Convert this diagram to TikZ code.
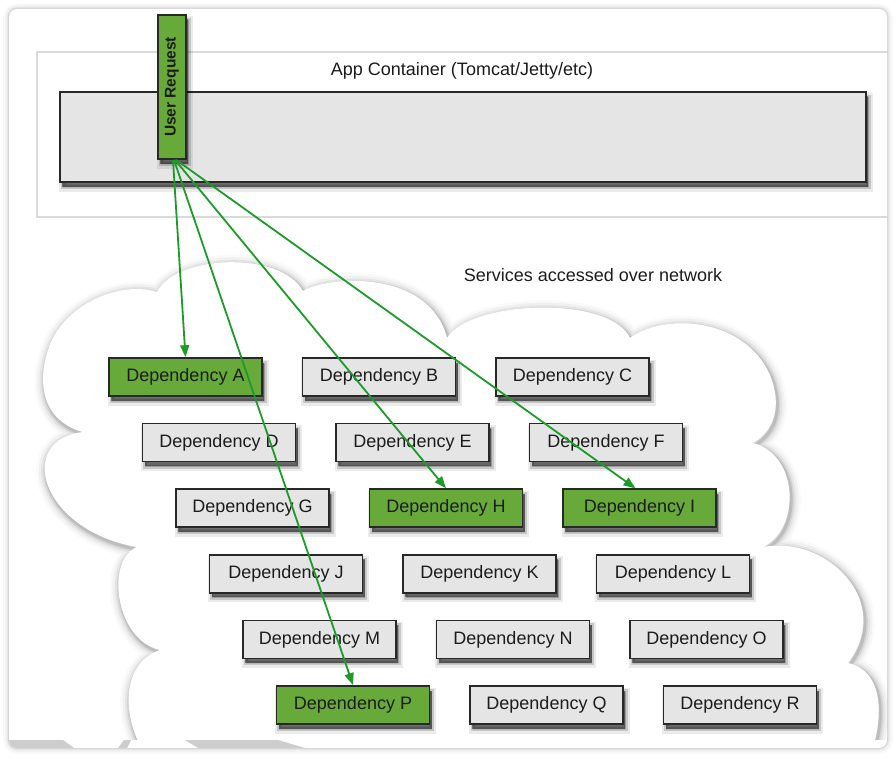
\documentclass[tikz,border=0pt]{standalone}
\usepackage{fontspec}
\setmainfont{Liberation Sans}
\usepackage{graphicx}
\usetikzlibrary{arrows.meta}
\definecolor{grn}{RGB}{104,170,58}
\definecolor{arr}{RGB}{28,155,40}
\definecolor{boxgray}{RGB}{229,229,229}
\definecolor{edgec}{RGB}{40,40,40}
\definecolor{txt}{RGB}{28,28,28}
\definecolor{framegray}{RGB}{218,218,218}
\definecolor{stripgray}{RGB}{205,205,205}
\begin{document}
\begin{tikzpicture}[x=1pt,y=-1pt,
  shad/.style={
    preaction={fill=black, fill opacity=0.08, draw=black, draw opacity=0.08, line width=8pt, transform canvas={xshift=2.5pt,yshift=-5.5pt}},
    preaction={fill=black, fill opacity=0.15, draw=black, draw opacity=0.15, line width=4pt, transform canvas={xshift=2.5pt,yshift=-5pt}},
    preaction={fill=black, fill opacity=0.45, transform canvas={xshift=2pt,yshift=-4.5pt}}},
  dep/.style={draw=edgec, line width=1.7pt, fill=boxgray, minimum width=153pt, minimum height=38pt,
    inner sep=0pt, font=\fontsize{18}{21}\selectfont, text=txt, shad},
  gdep/.style={dep, fill=grn},
  conn/.style={draw=arr, line width=1.8pt, -{Triangle[length=12pt,width=9pt]}},
  lbl/.style={font=\fontsize{18}{21}\selectfont, text=txt, inner sep=0pt}
]
\def\cloudpath{(83,432) .. controls (40,420) and (38,380) .. (48,350) .. controls (62,305) and (120,280) .. (157,292)
 .. controls (175,255) and (280,250) .. (303,291) .. controls (330,275) and (430,270) .. (447,338)
 .. controls (470,300) and (610,295) .. (630,338) .. controls (665,312) and (745,318) .. (770,375)
 .. controls (782,405) and (775,430) .. (753,443) .. controls (800,455) and (800,530) .. (763,547)
 .. controls (825,535) and (895,600) .. (848,663) .. controls (882,670) and (888,715) .. (865,770)
 -- (158,770) .. controls (122,735) and (115,665) .. (160,650) .. controls (115,640) and (105,560) .. (137,547)
 .. controls (40,530) and (15,440) .. (83,432) -- cycle}
% page
\fill[white] (0,0) rectangle (896,757);
\useasboundingbox (0,0) rectangle (896,757);
% card shadow and card
\foreach \w/\o in {12/0.02, 8/0.03, 4/0.05, 2/0.07}
  \draw[black, opacity=\o, line width=\w pt, rounded corners=8pt] (9,9) rectangle (887,748);
\fill[white, rounded corners=8pt] (9,9) rectangle (887,748);
\begin{scope}
  \clip[rounded corners=8pt] (9,9) rectangle (887,748);
  \draw[framegray, line width=1.3pt] (37,52) rectangle (905,217);
  \begin{scope}
    \clip (0,0) rectangle (896,739.5);
    \foreach \w/\o in {20/0.02, 15/0.035, 10/0.05, 6/0.07, 3/0.1}
      \draw[black, opacity=\o, line width=\w pt, shift={(1.5,2.5)}] \cloudpath;
    \fill[white] \cloudpath;
  \end{scope}
  % strip at the bottom
  \fill[stripgray] (9,740) -- (63,740) -- (74,748) -- (9,748) -- cycle;
  \fill[stripgray] (118,748) -- (124,740) -- (131,740) -- (127,748) -- cycle;
  \fill[stripgray] (185,740) -- (278,740) -- (305,748) -- (198,748) -- cycle;
\end{scope}
% app container
\node[draw=edgec, line width=1.7pt, fill=boxgray, minimum width=806pt, minimum height=90pt, inner sep=0pt, shad] (app) at (463,137) {};
\node[lbl] (apptitle) at (462,71) {App Container (Tomcat/Jetty/etc)};
\node[draw=edgec, line width=1.7pt, fill=grn, minimum width=28pt, minimum height=144pt, inner sep=0pt, shad,
  font=\fontsize{15.5}{18}\bfseries, text=txt] (ur) at (172,87) {\rotatebox{90}{User Request}};
\node[lbl] (svc) at (593,275) {Services accessed over network};
% dependencies
\node[gdep] (A) at (185.5,377) {Dependency A};
\node[dep]  (B) at (379,377) {Dependency B};
\node[dep]  (C) at (572.5,377) {Dependency C};
\node[dep]  (D) at (219,442.6) {Dependency D};
\node[dep]  (E) at (412.5,442.6) {Dependency E};
\node[dep]  (F) at (606,442.6) {Dependency F};
\node[dep]  (G) at (252.5,508.2) {Dependency G};
\node[gdep] (H) at (446,508.2) {Dependency H};
\node[gdep] (I) at (639.5,508.2) {Dependency I};
\node[dep]  (J) at (286,573.8) {Dependency J};
\node[dep]  (K) at (479.5,573.8) {Dependency K};
\node[dep]  (L) at (673,573.8) {Dependency L};
\node[dep]  (M) at (319.5,639.4) {Dependency M};
\node[dep]  (N) at (513,639.4) {Dependency N};
\node[dep]  (O) at (706.5,639.4) {Dependency O};
\node[gdep] (P) at (353,705) {Dependency P};
\node[dep]  (Q) at (546.5,705) {Dependency Q};
\node[dep]  (R) at (740,705) {Dependency R};
% connectors
\draw[conn] ([xshift=1pt]ur.south) -- (A.north);
\draw[conn] ([xshift=2pt]ur.south) -- (P.north);
\draw[conn] ([xshift=3pt]ur.south) -- (H.north);
\draw[conn] ([xshift=4pt]ur.south) -- ([xshift=-4pt]I.north);
\end{tikzpicture}
\end{document}
